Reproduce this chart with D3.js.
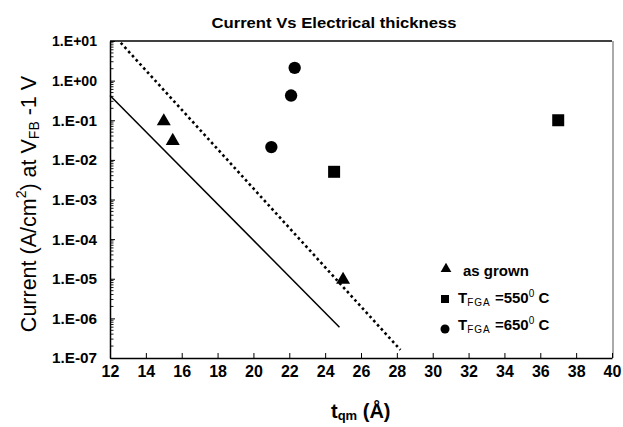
<!DOCTYPE html>
<html>
<head>
<meta charset="utf-8">
<script src="https://cdn.jsdelivr.net/npm/d3@7"></script>
<style>
  body { margin: 0; background: #fff; }
  svg { display: block; font-family: Arial, "Liberation Sans", sans-serif; }
</style>
</head>
<body>
<svg id="chart" width="623" height="427"></svg>
<script>
/* data */
const xTicks = [12, 14, 16, 18, 20, 22, 24, 26, 28, 30, 32, 34, 36, 38, 40];
const yTickValues = [1e-7, 1e-6, 1e-5, 1e-4, 1e-3, 1e-2, 1e-1, 1e0, 1e1];
const yTickLabels = ['1.E-07', '1.E-06', '1.E-05', '1.E-04', '1.E-03', '1.E-02', '1.E-01', '1.E+00', '1.E+01'];

const asGrownX = [15, 15.5, 25];
const asGrownY = [0.1, 0.032, 1e-5];
const fga550X = [24.5, 37];
const fga550Y = [0.005, 0.1];
const fga650X = [21, 22.1, 22.3];
const fga650Y = [0.021, 0.42, 2.1];

const solidLineX = [12, 24.8];
const solidLineY = [0.42, 6e-7];
const dottedLineX = [12.6, 28.2];
const dottedLineY = [9, 1.6e-7];

const svg = d3.select('#chart');

/* plot area */
const margin = { left: 110, top: 41, right: 612, bottom: 358 };

const x = d3.scaleLinear().domain([12, 40]).range([margin.left, margin.right]);
const y = d3.scaleLog().domain([1e-7, 1e1]).range([margin.bottom, margin.top]);

/* title */
svg.append('text')
  .attr('x', 334)
  .attr('y', 28)
  .attr('text-anchor', 'middle')
  .attr('font-size', 15.5)
  .attr('font-weight', 'bold')
  .attr('textLength', 245)
  .attr('lengthAdjust', 'spacingAndGlyphs')
  .text('Current Vs Electrical thickness');

/* frame: top black, right grey */
svg.append('line')
  .attr('x1', margin.left).attr('x2', margin.right)
  .attr('y1', margin.top).attr('y2', margin.top)
  .attr('stroke', '#000').attr('stroke-width', 1.5);
svg.append('line')
  .attr('x1', margin.right + 1).attr('x2', margin.right + 1)
  .attr('y1', margin.top).attr('y2', margin.bottom)
  .attr('stroke', '#aaa').attr('stroke-width', 2);

/* x axis, ticks pointing inward */
const xAxis = d3.axisBottom(x)
  .tickValues(xTicks)
  .tickSizeInner(-5)
  .tickSizeOuter(0)
  .tickPadding(8)
  .tickFormat(d3.format('d'));
const gx = svg.append('g')
  .attr('transform', `translate(0,${margin.bottom})`)
  .call(xAxis);
gx.select('.domain').attr('stroke-width', 1.5);
gx.selectAll('.tick line').attr('stroke-width', 1);
gx.selectAll('.tick text')
  .attr('font-size', 16)
  .attr('font-weight', 'bold')
  .attr('font-family', 'Arial, "Liberation Sans", sans-serif')
  .attr('fill', '#000');

/* y axis, major ticks inward, labels on the left */
const yAxis = d3.axisLeft(y)
  .tickValues(yTickValues)
  .tickSizeInner(-5)
  .tickSizeOuter(0)
  .tickPadding(13)
  .tickFormat((d, i) => yTickLabels[i]);
const gy = svg.append('g')
  .attr('transform', `translate(${margin.left},0)`)
  .call(yAxis);
gy.select('.domain').attr('stroke-width', 1.5);
gy.selectAll('.tick text')
  .attr('font-size', 14)
  .attr('font-weight', 'bold')
  .attr('font-family', 'Arial, "Liberation Sans", sans-serif')
  .attr('fill', '#000')
  .attr('textLength', 45)
  .attr('lengthAdjust', 'spacingAndGlyphs')
  .attr('dy', '0.35em');

/* minor log ticks */
const minorTicks = [];
yTickValues.slice(0, -1).forEach((base) => {
  for (let k = 2; k <= 9; k += 1) minorTicks.push(base * k);
});
svg.append('g')
  .selectAll('line')
  .data(minorTicks)
  .join('line')
  .attr('x1', margin.left)
  .attr('x2', margin.left + 3.5)
  .attr('y1', (d) => y(d))
  .attr('y2', (d) => y(d))
  .attr('stroke', '#000')
  .attr('stroke-width', 0.9);

/* reference lines */
const line = d3.line().x((d) => x(d[0])).y((d) => y(d[1]));
svg.append('path')
  .datum(d3.zip(solidLineX, solidLineY))
  .attr('d', line)
  .attr('fill', 'none')
  .attr('stroke', '#000')
  .attr('stroke-width', 1.5);
svg.append('path')
  .datum(d3.zip(dottedLineX, dottedLineY))
  .attr('d', line)
  .attr('fill', 'none')
  .attr('stroke', '#000')
  .attr('stroke-width', 2.6)
  .attr('stroke-dasharray', '2.6,3');

/* markers */
const triangle = d3.symbol().type(d3.symbolTriangle).size(85);
const square = d3.symbol().type(d3.symbolSquare).size(144);
const circle = d3.symbol().type(d3.symbolCircle).size(120);

svg.append('g')
  .selectAll('path')
  .data(d3.zip(asGrownX, asGrownY))
  .join('path')
  .attr('d', triangle)
  .attr('transform', (d) => `translate(${x(d[0])},${y(d[1]) + 1})`)
  .attr('fill', '#000');
svg.append('g')
  .selectAll('path')
  .data(d3.zip(fga550X, fga550Y))
  .join('path')
  .attr('d', square)
  .attr('transform', (d) => `translate(${x(d[0])},${y(d[1])})`)
  .attr('fill', '#000');
svg.append('g')
  .selectAll('path')
  .data(d3.zip(fga650X, fga650Y))
  .join('path')
  .attr('d', circle)
  .attr('transform', (d) => `translate(${x(d[0])},${y(d[1])})`)
  .attr('fill', '#000');

/* legend */
const legend = svg.append('g').attr('font-weight', 'bold').attr('font-size', 15);
legend.append('path')
  .attr('d', d3.symbol().type(d3.symbolTriangle).size(50))
  .attr('transform', 'translate(446,269)');
legend.append('text').attr('x', 463).attr('y', 276).text('as grown');

legend.append('path')
  .attr('d', d3.symbol().type(d3.symbolSquare).size(64))
  .attr('transform', 'translate(445,299)');
const t550 = legend.append('text').attr('x', 458).attr('y', 303);
t550.append('tspan').text('T');
t550.append('tspan').attr('font-size', 10).attr('font-weight', 'normal').attr('dy', 3).attr('letter-spacing', 1).text('FGA');
t550.append('tspan').attr('dy', -3).text(' =550');
t550.append('tspan').attr('font-size', 10).attr('font-weight', 'normal').attr('dy', -6).text('0');
t550.append('tspan').attr('dy', 6).text(' C');

legend.append('path')
  .attr('d', d3.symbol().type(d3.symbolCircle).size(64))
  .attr('transform', 'translate(445,329)');
const t650 = legend.append('text').attr('x', 458).attr('y', 330);
t650.append('tspan').text('T');
t650.append('tspan').attr('font-size', 10).attr('font-weight', 'normal').attr('dy', 3).attr('letter-spacing', 1).text('FGA');
t650.append('tspan').attr('dy', -3).text(' =650');
t650.append('tspan').attr('font-size', 10).attr('font-weight', 'normal').attr('dy', -6).text('0');
t650.append('tspan').attr('dy', 6).text(' C');

/* x axis title */
const xTitle = svg.append('text')
  .attr('x', 331)
  .attr('y', 418)
  .attr('font-weight', 'bold')
  .attr('font-size', 20);
xTitle.append('tspan').text('t');
xTitle.append('tspan').attr('font-size', 13).attr('dy', 2).text('qm');
xTitle.append('tspan').attr('dy', -2).text(' (Å)');

/* y axis title */
const yTitle = svg.append('text')
  .attr('transform', 'translate(36,204) rotate(-90)')
  .attr('text-anchor', 'middle')
  .attr('font-size', 21.5);
yTitle.append('tspan').text('Current (A/cm');
yTitle.append('tspan').attr('font-size', 14).attr('dy', -10).text('2');
yTitle.append('tspan').attr('dy', 10).text(') at V');
yTitle.append('tspan').attr('font-size', 14).attr('dy', 3).text('FB');
yTitle.append('tspan').attr('dy', -3).text(' -1 V');
</script>
</body>
</html>
